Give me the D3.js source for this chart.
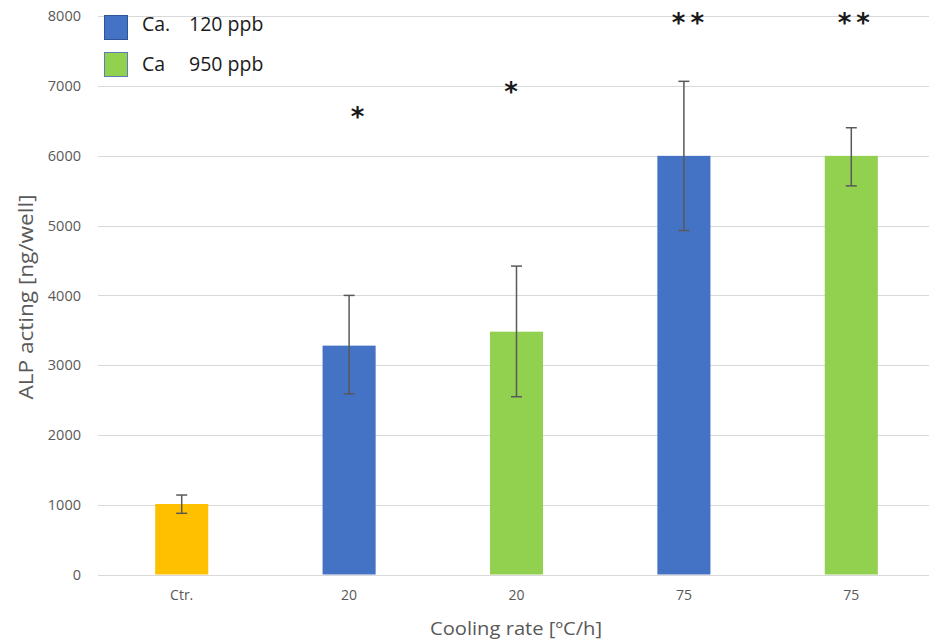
<!DOCTYPE html>
<html>
<head>
<meta charset="utf-8">
<script src="https://cdn.jsdelivr.net/npm/d3@7"></script>
<style>
  html, body { margin: 0; padding: 0; background: #fff; }
  svg { display: block; }
  text { font-family: "Open Sans", "Noto Sans", sans-serif; }
</style>
</head>
<body>
<svg id="chart" width="929" height="644"></svg>
<script>
// Groups along the x axis
const categories = ["Ctr.", "20", "20", "75", "75"];
// Series each bar belongs to
const groups = ["ctrl", "ca120", "ca950", "ca120", "ca950"];
// Mean ALP activity [ng/well]
const values = [1010, 3280, 3480, 6000, 6000];
// Error bar bounds
const errLow = [877, 2590, 2548, 4930, 5570];
const errHigh = [1139, 4000, 4420, 7068, 6403];
// Significance markers and their heights (data units)
const marks = ["", "*", "*", "**", "**"];
const markY = [0, 6560, 6920, 7900, 7900];
// Y axis ticks
const yTicks = [0, 1000, 2000, 3000, 4000, 5000, 6000, 7000, 8000];
// Legend entries
const legendLabels = [["Ca.", "120 ppb"], ["Ca", "950 ppb"]];
const legendGroups = ["ca120", "ca950"];

const colors = { ctrl: "#FFC000", ca120: "#4472C4", ca950: "#92D050" };
const borders = { ca120: "#2F5597", ca950: "#5B7FB0" };
// horizontal nudge of each significance marker relative to its bar centre (px)
const markNudge = [0, 11, -3, 6.5, 5];

const svg = d3.select("#chart");
const idx = categories.map((_, i) => i);

const x = d3.scaleBand()
  .domain(idx)
  .range([98, 935])
  .paddingInner(0.683)
  .paddingOuter(0.3415);

const y = d3.scaleLinear().domain([0, 8000]).range([574.5, 16.3]);

// Horizontal gridlines
svg.append("g")
  .selectAll("line")
  .data(yTicks)
  .join("line")
  .attr("x1", 98).attr("x2", 929)
  .attr("y1", d => Math.round(y(d)) + 0.5)
  .attr("y2", d => Math.round(y(d)) + 0.5)
  .attr("stroke", "#d9d9d9")
  .attr("stroke-width", 1);

// Y axis tick labels
const yAxis = svg.append("g")
  .attr("transform", "translate(81,0)")
  .call(d3.axisLeft(y).tickValues(yTicks).tickSize(0).tickPadding(0).tickFormat(d3.format("d")));
yAxis.select(".domain").remove();
yAxis.selectAll("text")
  .attr("fill", "#595959")
  .style("font-size", "14.5px")
  .style("font-family", "'Open Sans', sans-serif");

// X axis category labels
const xAxis = svg.append("g")
  .attr("transform", "translate(0,590)")
  .call(d3.axisBottom(x).tickSize(0).tickPadding(0).tickFormat(i => categories[i]));
xAxis.select(".domain").remove();
xAxis.selectAll("text")
  .attr("fill", "#595959")
  .style("font-size", "14px")
  .style("font-family", "'Open Sans', sans-serif");

// Bars
svg.append("g")
  .selectAll("rect")
  .data(idx)
  .join("rect")
  .attr("x", i => x(i))
  .attr("width", x.bandwidth())
  .attr("y", i => y(values[i]))
  .attr("height", i => y(0) - y(values[i]))
  .attr("fill", i => colors[groups[i]]);

// Error bars
const eb = svg.append("g")
  .attr("stroke", "#595959")
  .attr("stroke-width", 1.5);
idx.forEach(i => {
  const cx = x(i) + x.bandwidth() / 2;
  eb.append("line").attr("x1", cx).attr("x2", cx)
    .attr("y1", y(errLow[i])).attr("y2", y(errHigh[i]));
  [errLow[i], errHigh[i]].forEach(v => {
    eb.append("line").attr("x1", cx - 5.5).attr("x2", cx + 5.5)
      .attr("y1", y(v)).attr("y2", y(v));
  });
});

// Significance asterisks
svg.append("g")
  .selectAll("text")
  .data(idx.filter(i => marks[i]))
  .join("text")
  .attr("x", i => x(i) + x.bandwidth() / 2 + markNudge[i])
  .attr("y", i => y(markY[i]))
  .attr("text-anchor", "middle")
  .attr("dominant-baseline", "central")
  .attr("fill", "#1a1a1a")
  .style("font-family", "'DejaVu Sans', sans-serif")
  .style("font-weight", "bold")
  .style("font-size", "26px")
  .style("letter-spacing", "5px")
  .text(i => marks[i]);

// Axis titles
svg.append("text")
  .attr("x", 516).attr("y", 635)
  .attr("text-anchor", "middle")
  .attr("fill", "#595959")
  .attr("textLength", 172)
  .attr("lengthAdjust", "spacingAndGlyphs")
  .style("font-size", "19px")
  .text("Cooling rate [ºC/h]");

svg.append("text")
  .attr("transform", "translate(33,297) rotate(-90)")
  .attr("text-anchor", "middle")
  .attr("fill", "#595959")
  .attr("textLength", 205)
  .attr("lengthAdjust", "spacingAndGlyphs")
  .style("font-size", "19.5px")
  .text("ALP acting [ng/well]");

// Legend
const lg = svg.append("g");
legendGroups.forEach((g, k) => {
  const top = 15.5 + k * 37;
  lg.append("rect")
    .attr("x", 104.5).attr("y", top)
    .attr("width", 23).attr("height", 24)
    .attr("fill", colors[g])
    .attr("stroke", borders[g])
    .attr("stroke-width", 1);
  const t = lg.append("text")
    .attr("y", 30.5 + k * 40)
    .attr("fill", "#1a1a1a")
    .style("font-size", "19.5px");
  t.append("tspan").attr("x", 142).text(legendLabels[k][0]);
  t.append("tspan").attr("x", 189).text(legendLabels[k][1]);
});
</script>
</body>
</html>
